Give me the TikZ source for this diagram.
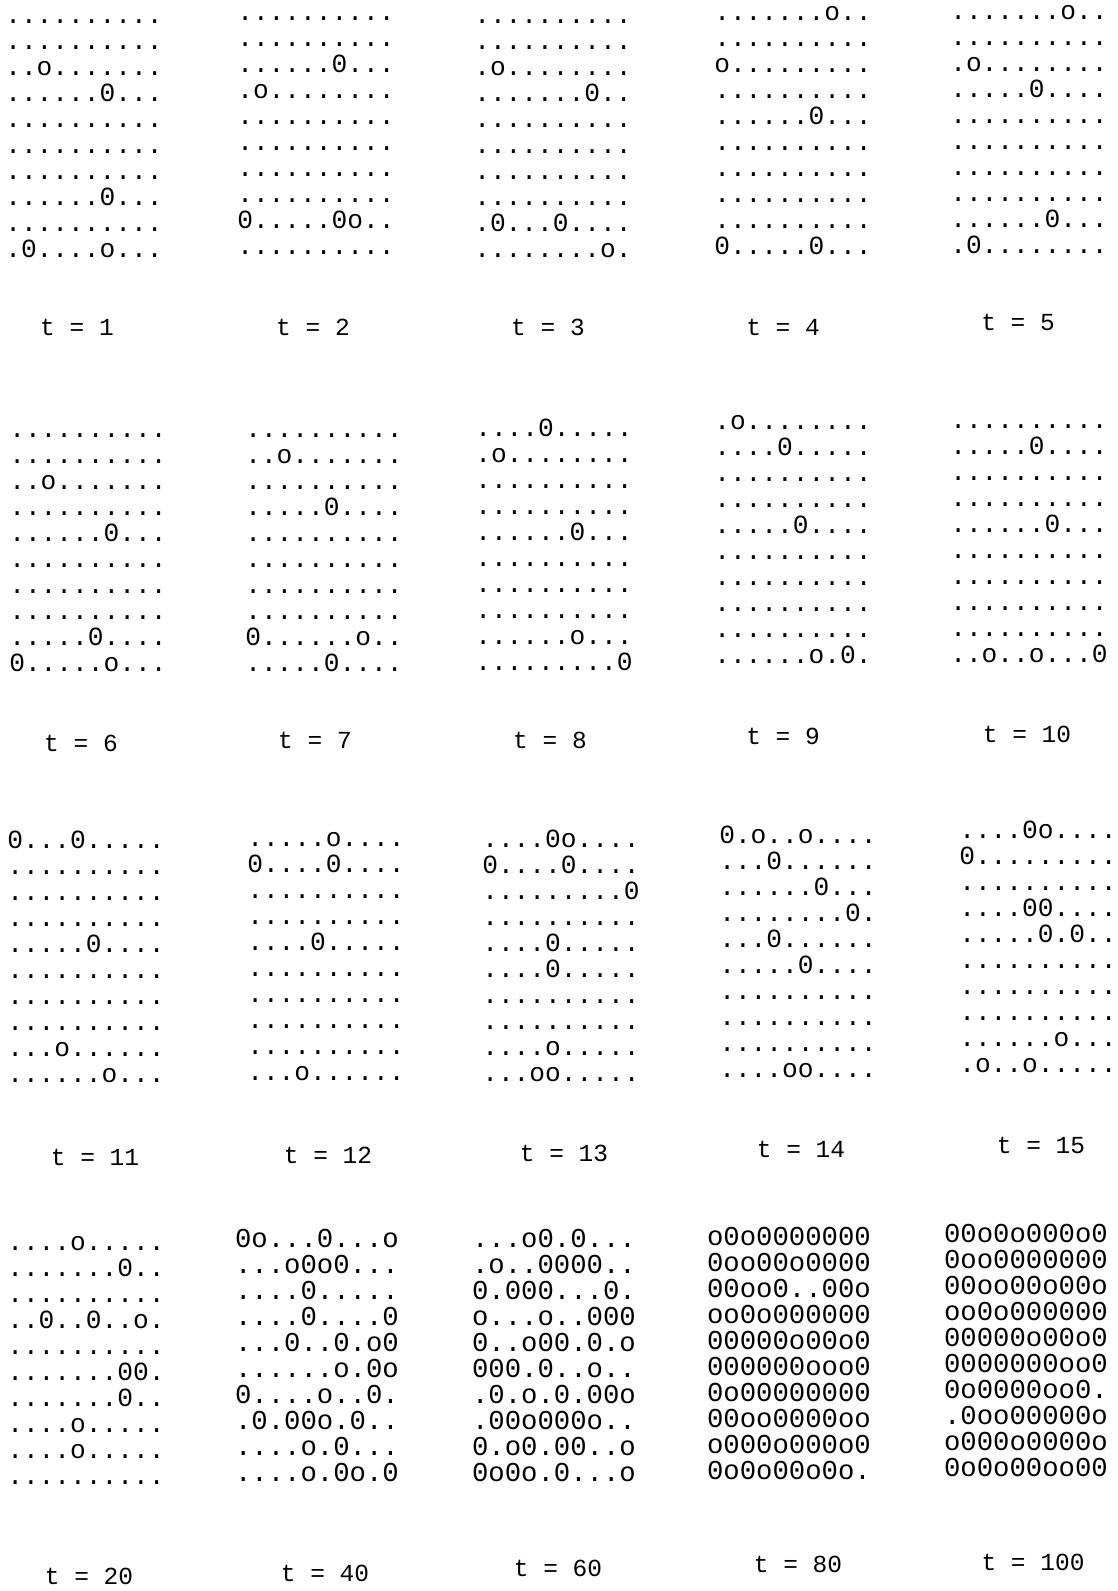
\documentclass[tikz,border=0pt]{standalone}
\usepackage{fontspec}
\usepackage{tikz}
\newfontfamily\printfont{Liberation Mono}
\tikzset{
  dotgrid/.style={anchor=base west, inner sep=0pt, align=left,
    font=\printfont\fontsize{#1}{26pt}\selectfont},
  dotgrid/.default=26.2,
  steplabel/.style={anchor=base, inner sep=0pt,
    font=\printfont\fontsize{24.5}{26pt}\selectfont}
}

\begin{document}
\begin{tikzpicture}[x=1pt,y=-1pt]
  \fill[white] (0,0) rectangle (1118,1591);
  \useasboundingbox (0,0) rectangle (1118,1591);

  % t = 1 ... 5 (placed at the baseline of the last row)
  \node[dotgrid] (g1) at (5.1,257) {..........\\..........\\..o.......\\......0...\\..........\\..........\\..........\\......0...\\..........\\.0....o...};
  \node[dotgrid] (g2) at (237.1,254.5) {..........\\..........\\......0...\\.o........\\..........\\..........\\..........\\..........\\0.....0o..\\..........};
  \node[dotgrid] (g3) at (474.1,257.5) {..........\\..........\\.o........\\.......0..\\..........\\..........\\..........\\..........\\.0...0....\\........o.};
  \node[dotgrid] (g4) at (714.1,254) {.......o..\\..........\\o.........\\..........\\......0...\\..........\\..........\\..........\\..........\\0.....0...};
  \node[dotgrid] (g5) at (950.1,253) {.......o..\\..........\\.o........\\.....0....\\..........\\..........\\..........\\..........\\......0...\\.0........};

  % t = 6 ... 10
  \node[dotgrid] (g6) at (9.1,671.5) {..........\\..........\\..o.......\\..........\\......0...\\..........\\..........\\..........\\.....0....\\0.....o...};
  \node[dotgrid] (g7) at (245.1,671.5) {..........\\..o.......\\..........\\.....0....\\..........\\..........\\..........\\..........\\0......o..\\.....0....};
  \node[dotgrid] (g8) at (475.1,670.5) {....0.....\\.o........\\..........\\..........\\......0...\\..........\\..........\\..........\\......o...\\.........0};
  \node[dotgrid] (g9) at (714.1,663) {.o........\\....0.....\\..........\\..........\\.....0....\\..........\\..........\\..........\\..........\\......o.0.};
  \node[dotgrid] (g10) at (950.1,662) {..........\\.....0....\\..........\\..........\\......0...\\..........\\..........\\..........\\..........\\..o..o...0};

  % t = 11 ... 15
  \node[dotgrid] (g11) at (7.1,1082) {0...0.....\\..........\\..........\\..........\\.....0....\\..........\\..........\\..........\\...o......\\......o...};
  \node[dotgrid] (g12) at (247.1,1080.5) {.....o....\\0....0....\\..........\\..........\\....0.....\\..........\\..........\\..........\\..........\\...o......};
  \node[dotgrid] (g13) at (482.1,1081.5) {....0o....\\0....0....\\.........0\\..........\\....0.....\\....0.....\\..........\\..........\\....o.....\\...oo.....};
  \node[dotgrid] (g14) at (719.1,1077) {0.o..o....\\...0......\\......0...\\........0.\\...0......\\.....0....\\..........\\..........\\..........\\....oo....};
  \node[dotgrid] (g15) at (959.1,1072) {....0o....\\0.........\\..........\\....00....\\.....0.0..\\..........\\..........\\..........\\......o...\\.o..o.....};

  % t = 20 ... 100
  \node[dotgrid] (g20) at (7.1,1484) {....o.....\\.......0..\\..........\\..0..0..o.\\..........\\.......00.\\.......0..\\....o.....\\....o.....\\..........};
  \node[dotgrid=27.3] (g40) at (234.8,1481) {0o...0...o\\...o0o0...\\....0.....\\....0....0\\...0..0.o0\\......o.0o\\0....o..0.\\.0.00o.0..\\....o.0...\\....o.0o.0};
  \node[dotgrid=27.3] (g60) at (471.8,1481) {...o0.0...\\.o..0000..\\0.000...0.\\o...o..000\\0..o00.0.o\\000.0..o..\\.0.o.0.00o\\.00o000o..\\0.o0.00..o\\0o0o.0...o};
  \node[dotgrid=27.3] (g80) at (706.8,1479) {o0o0000000\\0oo00o0000\\00oo0..00o\\oo0o000000\\00000o00o0\\000000ooo0\\0o00000000\\00oo0000oo\\o000o000o0\\0o0o00o0o.};
  \node[dotgrid=27.3] (g100) at (943.8,1476) {00o0o000o0\\0oo0000000\\00oo00o00o\\oo0o000000\\00000o00o0\\0000000oo0\\0o0000oo0.\\.0oo00000o\\o000o0000o\\0o0o00oo00};

  % time labels
  \node[steplabel] (l1) at (77,335) {t = 1};
  \node[steplabel] (l2) at (313,335) {t = 2};
  \node[steplabel] (l3) at (548,335) {t = 3};
  \node[steplabel] (l4) at (783,335) {t = 4};
  \node[steplabel] (l5) at (1018,330) {t = 5};
  \node[steplabel] (l6) at (81,751) {t = 6};
  \node[steplabel] (l7) at (315,748) {t = 7};
  \node[steplabel] (l8) at (550,748) {t = 8};
  \node[steplabel] (l9) at (783,744) {t = 9};
  \node[steplabel] (l10) at (1027,742) {t = 10};
  \node[steplabel] (l11) at (95,1165) {t = 11};
  \node[steplabel] (l12) at (328,1163) {t = 12};
  \node[steplabel] (l13) at (564,1161) {t = 13};
  \node[steplabel] (l14) at (801,1157) {t = 14};
  \node[steplabel] (l15) at (1041,1153) {t = 15};
  \node[steplabel] (l20) at (89,1584) {t = 20};
  \node[steplabel] (l40) at (325,1581) {t = 40};
  \node[steplabel] (l60) at (558,1576) {t = 60};
  \node[steplabel] (l80) at (798,1572) {t = 80};
  \node[steplabel] (l100) at (1033,1570) {t = 100};
\end{tikzpicture}
\end{document}
